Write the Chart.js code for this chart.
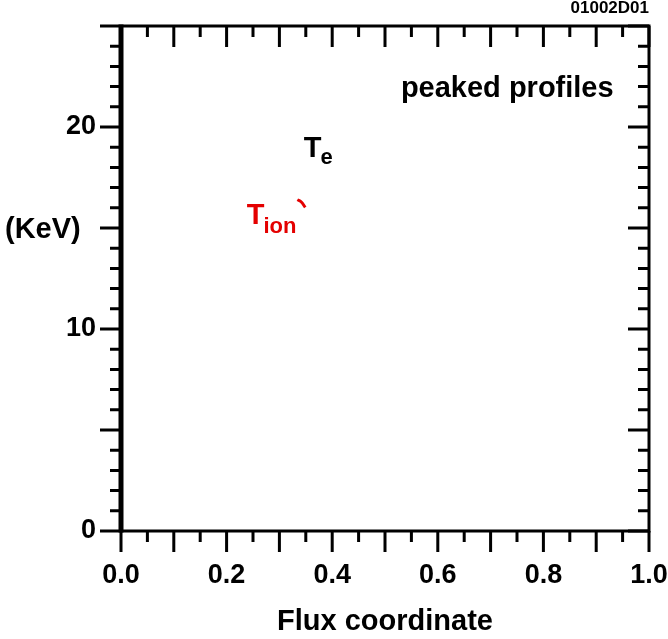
<!DOCTYPE html>
<html>
<head>
<meta charset="utf-8">
<script src="https://cdn.jsdelivr.net/npm/chart.js@4.4.1/dist/chart.umd.min.js"></script>
<style>
  html, body { margin: 0; padding: 0; background: #fff; }
  #wrap { width: 668px; height: 639px; }
</style>
</head>
<body>
<div id="wrap"><canvas id="c" width="668" height="639"></canvas></div>
<script>
// Axis ranges and tick labels
const xRange = [0, 1];
const yRange = [0, 25];
const xTickValues = [0, 0.2, 0.4, 0.6, 0.8, 1.0];
const xTickLabels = ['0.0', '0.2', '0.4', '0.6', '0.8', '1.0'];
const yTickValues = [0, 10, 20];
const yTickLabels = ['0', '10', '20'];

// Only a small fragment of the ion temperature curve is visible
const tionX = [0.334, 0.341, 0.349];
const tionY = [16.40, 16.30, 16.02];

const RED = 'rgb(228,0,0)';
const FONT = '"Liberation Sans", Arial, sans-serif';

function labelFor(values, labels, v) {
  for (let i = 0; i < values.length; i++) {
    if (Math.abs(values[i] - v) < 1e-6) return labels[i];
  }
  return '';
}

// Frame, inward/outward ticks and the text annotations
const framePlugin = {
  id: 'frame',
  afterDraw(chart) {
    const { ctx, chartArea: a } = chart;
    const xs = chart.scales.x, ys = chart.scales.y;
    ctx.save();
    ctx.strokeStyle = '#000';
    ctx.lineCap = 'butt';

    // y ticks: outward on the left, inward on the right
    ctx.lineWidth = 3;
    for (const t of ys.ticks) {
      const y = ys.getPixelForValue(t.value);
      const len = Math.round(t.value) % 5 === 0 ? 21 : 11;
      ctx.beginPath();
      ctx.moveTo(a.left, y); ctx.lineTo(a.left - len, y);
      ctx.moveTo(a.right, y); ctx.lineTo(a.right - len, y);
      ctx.stroke();
    }
    // x ticks: outward at the bottom, inward at the top
    for (const t of xs.ticks) {
      const x = xs.getPixelForValue(t.value);
      const len = Math.round(t.value * 100) % 10 === 0 ? 21 : 11;
      ctx.beginPath();
      ctx.moveTo(x, a.bottom); ctx.lineTo(x, a.bottom + len);
      ctx.moveTo(x, a.top); ctx.lineTo(x, a.top + len);
      ctx.stroke();
    }
    // box
    ctx.lineWidth = 3;
    ctx.beginPath();
    ctx.moveTo(a.left, a.top); ctx.lineTo(a.right, a.top);
    ctx.lineTo(a.right, a.bottom); ctx.lineTo(a.left, a.bottom);
    ctx.stroke();
    ctx.lineWidth = 5;
    ctx.beginPath();
    ctx.moveTo(a.left, a.top - 1.5); ctx.lineTo(a.left, a.bottom + 1.5);
    ctx.stroke();

    // texts
    ctx.textBaseline = 'alphabetic';
    ctx.fillStyle = '#000';
    ctx.font = 'bold 17px ' + FONT;
    ctx.textAlign = 'right';
    ctx.fillText('01002D01', a.right, 13);

    ctx.font = 'bold 29px ' + FONT;
    ctx.fillText('peaked profiles', xs.getPixelForValue(0.933), ys.getPixelForValue(21.47));

    ctx.textAlign = 'left';
    ctx.fillText('(KeV)', 5, ys.getPixelForValue(15) + 10);

    // T_e
    let x0 = xs.getPixelForValue(0.346), y0 = ys.getPixelForValue(18.5);
    ctx.font = 'bold 29px ' + FONT;
    ctx.fillText('T', x0, y0);
    let w = ctx.measureText('T').width;
    ctx.font = 'bold 22px ' + FONT;
    ctx.fillText('e', x0 + w - 1, y0 + 7);

    // T_ion
    ctx.fillStyle = RED;
    x0 = xs.getPixelForValue(0.238); y0 = ys.getPixelForValue(15.2);
    ctx.font = 'bold 29px ' + FONT;
    ctx.fillText('T', x0, y0);
    w = ctx.measureText('T').width;
    ctx.font = 'bold 22px ' + FONT;
    ctx.fillText('ion', x0 + w - 1, y0 + 9);
    ctx.restore();
  }
};

new Chart(document.getElementById('c'), {
  type: 'line',
  data: {
    datasets: [{
      label: 'Tion',
      data: tionX.map((x, i) => ({ x, y: tionY[i] })),
      borderColor: RED,
      borderWidth: 3,
      pointRadius: 0,
      tension: 0.4,
      fill: false
    }]
  },
  options: {
    responsive: false,
    animation: false,
    layout: { padding: { top: 26, right: 19, left: 0, bottom: 0 } },
    plugins: { legend: { display: false }, tooltip: { enabled: false } },
    scales: {
      x: {
        type: 'linear',
        min: xRange[0], max: xRange[1],
        afterFit: (s) => { s.height = 108; s.paddingLeft = 0; s.paddingRight = 0; },
        border: { display: false },
        grid: { display: true, drawOnChartArea: false, drawTicks: true, tickLength: 20, tickColor: 'rgba(0,0,0,0)' },
        ticks: {
          stepSize: 0.05, autoSkip: false, maxRotation: 0, padding: 8,
          color: '#000', font: { family: FONT, weight: 'bold', size: 27 },
          callback: (v) => labelFor(xTickValues, xTickLabels, v)
        },
        title: {
          display: true, text: 'Flux coordinate', color: '#000',
          font: { family: FONT, weight: 'bold', size: 29 }, padding: { top: 20, bottom: 0 }
        }
      },
      y: {
        type: 'linear',
        min: yRange[0], max: yRange[1],
        afterFit: (s) => { s.width = 121; s.paddingTop = 0; s.paddingBottom = 0; },
        border: { display: false },
        grid: { display: true, drawOnChartArea: false, drawTicks: true, tickLength: 20, tickColor: 'rgba(0,0,0,0)' },
        ticks: {
          stepSize: 1, autoSkip: false, padding: 5,
          color: '#000', font: { family: FONT, weight: 'bold', size: 27 },
          callback: (v) => labelFor(yTickValues, yTickLabels, v)
        }
      }
    }
  },
  plugins: [framePlugin]
});
</script>
</body>
</html>
